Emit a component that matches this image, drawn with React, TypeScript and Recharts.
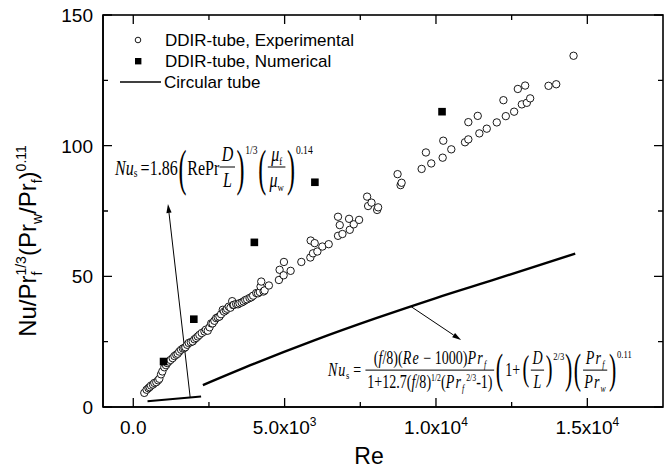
import React from 'react';
import { ComposedChart, Scatter, Line, XAxis, YAxis, ReferenceLine } from 'recharts';

// ---------- data ----------
const expRe = [
  364, 440, 500, 540, 586, 650, 695, 760, 820, 861, 917, 960, 1026, 1080, 1120, 1169, 1230, 1301, 1360, 1420,
  1467, 1520, 1579, 1640, 1690, 1722, 1780, 1831, 1900, 1963, 2020, 2076, 2130, 2185, 2260, 2351, 2400, 2460,
  2520, 2573, 2620, 2680, 2738, 2790, 2847, 2900, 2957, 3000, 3060, 3100, 3155, 3210, 3268, 3300, 3321, 3400,
  3460, 3510, 3580, 3642, 3700, 3760, 3841, 3900, 3960, 4063, 4120, 4180, 4205, 4228, 4304, 4338, 4480, 4811,
  4834, 4967, 4977, 5198, 5552, 5850, 5861, 5937, 5993, 6082, 6247, 6456,
  6764, 6764, 6821, 6910, 7129, 7152, 7284, 7460, 7725, 7758, 7870, 8056, 8089, 8731, 8831, 8864, 9526, 9668,
  9844, 10221, 10241, 10506, 10959, 11069, 11069, 11380, 11433, 11678, 12009, 12228, 12307, 12582, 12704, 12837,
  12946, 13002, 13112, 13718, 13973, 14545,
];
const expNu = [
  5.4, 6.6, 7.2, 7.6, 8.2, 8.6, 9.2, 9.5, 10.2, 10.8, 12.5, 13.6, 15.2, 16.0, 16.8, 17.4, 18.0, 18.7, 19.5, 20.0,
  20.4, 21.2, 21.9, 22.4, 22.6, 22.9, 23.8, 24.5, 24.8, 25.1, 25.9, 26.4, 27.0, 27.6, 28.3, 28.9, 29.6, 29.2,
  30.5, 32.0, 32.0, 33.0, 34.0, 34.3, 34.6, 35.5, 37.2, 36.5, 37.0, 37.6, 38.4, 38.0, 40.5, 39.0, 39.1, 39.4,
  39.3, 39.7, 40.0, 40.4, 40.9, 41.2, 41.7, 42.0, 42.6, 43.6, 43.5, 44.0, 46.1, 48.0, 44.2, 44.6, 46.5, 48.6,
  52.5, 50.4, 55.5, 52.1, 55.5, 57.2, 63.7, 58.8, 62.7, 59.5, 61.4, 62.3,
  72.8, 65.5, 69.6, 66.2, 72.0, 67.8, 69.9, 71.6, 80.5, 76.9, 78.2, 75.4, 76.4, 89.1, 84.9, 85.8, 91.1, 97.4,
  93.2, 95.4, 101.9, 98.6, 101.3, 102.4, 109.0, 111.4, 104.7, 106.5, 108.9, 117.4, 111.3, 113.0, 121.7, 115.8,
  123.0, 116.4, 118.1, 122.9, 123.5, 134.4,
];

const numRe = [1000, 2000, 4000, 6000, 10200];
const numNu = [17.4, 33.6, 63.0, 86.0, 113.0];

const turbRe = [2300, 4000, 6000, 8000, 10000, 12000, 14600];
const turbNu = [8.4, 16.6, 25.6, 33.9, 41.7, 49.0, 58.7];

const lamRe = [470, 2240];
const lamNu = [2.2, 4.0];

// annotation arrows: [startRe, startNu, endRe, endNu]
const arrowLaminar = [1880, 3.7, 1146, 77.7];
const arrowTurbulent = [9180, 38.4, 10830, 25.6];

const xDomain = [-1000, 17500];
const yDomain = [0, 150];

const xTicks = [0, 2500, 5000, 7500, 10000, 12500, 15000];
const xMajorTicks = [0, 5000, 10000, 15000];
const xTickMantissa = ['0.0', '5.0x10', '1.0x10', '1.5x10'];
const xTickExponent = ['', '3', '4', '4'];

const yTicks = [0, 25, 50, 75, 100, 125, 150];
const yMajorTicks = [0, 50, 100, 150];
const yTickLabels = ['0', '50', '100', '150'];

const legendLabels = ['DDIR-tube, Experimental', 'DDIR-tube, Numerical', 'Circular tube'];

// ---------- layout constants ----------
const CHART_W = 670;
const CHART_H = 469;
const MARGIN = { top: 15, right: 7, bottom: 0, left: 0 };
const Y_AXIS_W = 103;
const X_AXIS_H = 62;
const PLOT_X = MARGIN.left + Y_AXIS_W;
const PLOT_Y = MARGIN.top;
const PLOT_W = CHART_W - MARGIN.left - MARGIN.right - Y_AXIS_W;
const PLOT_H = CHART_H - MARGIN.top - MARGIN.bottom - X_AXIS_H;

// ---------- derived tables ----------
const expData = expRe.map((re, i) => ({ re, nu: expNu[i] }));
const numData = numRe.map((re, i) => ({ re, nu: numNu[i] }));
const turbData = turbRe.map((re, i) => ({ re, nu: turbNu[i] }));
const lamData = lamRe.map((re, i) => ({ re, nu: lamNu[i] }));

const sans = '"Liberation Sans", Arial, Helvetica, sans-serif';
const serif = '"Liberation Serif", "Times New Roman", Times, serif';
const AX = '#000';

const ok = (...v: any[]) => v.every((n) => typeof n === 'number' && !isNaN(n));

// ---------- tick labels ----------
const BottomTick = (props: any) => {
  const { x, y, payload } = props;
  const i = xMajorTicks.indexOf(payload.value);
  if (i < 0) return <g />;
  return (
    <text x={x} y={y + 27} textAnchor="middle" fontSize={19} fontFamily={sans} fill="#000">
      {xTickMantissa[i]}
      {xTickExponent[i] && (
        <tspan fontSize={12} dy={-8}>
          {xTickExponent[i]}
        </tspan>
      )}
    </text>
  );
};
const LeftTick = (props: any) => {
  const { x, y, payload } = props;
  const i = yMajorTicks.indexOf(payload.value);
  if (i < 0) return <g />;
  return (
    <text x={x - 10} y={y} dy="0.36em" textAnchor="end" fontSize={19} fontFamily={sans} fill="#000">
      {yTickLabels[i]}
    </text>
  );
};

// ---------- frame with inward ticks on all four sides (overlay aligned to the plot box) ----------
const FrameOverlay = () => {
  const sx = (v: number) => PLOT_X + ((v - xDomain[0]) / (xDomain[1] - xDomain[0])) * PLOT_W;
  const sy = (v: number) => PLOT_Y + PLOT_H - ((v - yDomain[0]) / (yDomain[1] - yDomain[0])) * PLOT_H;
  const top = PLOT_Y;
  const bottom = PLOT_Y + PLOT_H;
  const left = PLOT_X;
  const right = PLOT_X + PLOT_W;
  let d = '';
  xTicks.forEach((t) => {
    const len = xMajorTicks.indexOf(t) >= 0 ? 9 : 5;
    const x = sx(t);
    d += `M${x},${bottom}V${bottom - len}M${x},${top}V${top + len}`;
  });
  yTicks.forEach((t) => {
    const len = yMajorTicks.indexOf(t) >= 0 ? 9 : 5;
    const y = sy(t);
    d += `M${left},${y}H${left + len}M${right},${y}H${right - len}`;
  });
  return (
    <svg
      style={{ position: 'absolute', left: 0, top: 0, pointerEvents: 'none' }}
      width={CHART_W}
      height={CHART_H}
    >
      <rect x={left} y={top} width={PLOT_W} height={PLOT_H} fill="none" stroke={AX} strokeWidth={1.6} />
      <path d={d} fill="none" stroke={AX} strokeWidth={1.3} />
    </svg>
  );
};

// ---------- axis titles ----------
const YTitle = (props: any) => {
  const vb = props.viewBox || { x: 0, y: 15, width: 103, height: 392 };
  const cx = vb.x + 36;
  const cy = vb.y + vb.height / 2 + 30;
  return (
    <text
      x={cx}
      y={cy}
      transform={`rotate(-90 ${cx} ${cy})`}
      textAnchor="middle"
      fontSize={24}
      fontFamily={sans}
      fill="#000"
    >
      Nu/Pr
      <tspan fontSize={14} dy={6}>f</tspan>
      <tspan fontSize={14} dx={-4} dy={-16}>1/3</tspan>
      <tspan dy={10}>(Pr</tspan>
      <tspan fontSize={14} dy={6}>w</tspan>
      <tspan dy={-6}>/Pr</tspan>
      <tspan fontSize={14} dy={6}>f</tspan>
      <tspan dy={-6}>)</tspan>
      <tspan fontSize={14} dy={-10}>0.11</tspan>
    </text>
  );
};
const XTitle = (props: any) => {
  const vb = props.viewBox || { x: 103, y: 407, width: 560, height: 62 };
  return (
    <text x={vb.x + vb.width / 2 - 14} y={vb.y + 57} textAnchor="middle" fontSize={23} fontFamily={sans} fill="#000">
      Re
    </text>
  );
};

// ---------- marks ----------
const CircleShape = (p: any) => (
  <circle cx={p.cx} cy={p.cy} r={3.7} fill="#fff" stroke="#000" strokeWidth={0.9} />
);
const SquareShape = (p: any) => <rect x={p.cx - 3.8} y={p.cy - 3.8} width={7.6} height={7.6} fill="#000" />;

const ArrowShape = (p: any) => {
  const { x1, y1, x2, y2 } = p;
  if (!ok(x1, y1, x2, y2)) return null;
  const dx = x2 - x1;
  const dy = y2 - y1;
  const len = Math.sqrt(dx * dx + dy * dy) || 1;
  const ux = dx / len;
  const uy = dy / len;
  const hl = 9;
  const hw = 2.6;
  const bx = x2 - ux * hl;
  const by = y2 - uy * hl;
  const pts = `${x2},${y2} ${bx - uy * hw},${by + ux * hw} ${bx + uy * hw},${by - ux * hw}`;
  return (
    <g>
      <line x1={x1} y1={y1} x2={bx} y2={by} stroke="#000" strokeWidth={1} />
      <polygon points={pts} fill="#000" />
    </g>
  );
};

// ---------- formula helpers (HTML) ----------
const Frac = ({ num, den, pad = 2 }: any) => (
  <span style={{ display: 'inline-flex', flexDirection: 'column', alignItems: 'center', margin: '0 1px' }}>
    <span style={{ borderBottom: '1px solid #000', padding: `0 ${pad}px 2px`, lineHeight: 1.05, alignSelf: 'stretch', textAlign: 'center' }}>
      {num}
    </span>
    <span style={{ padding: `2px ${pad}px 0`, lineHeight: 1.05 }}>{den}</span>
  </span>
);
const Paren = ({ ch, size = 30, sy = 1.7 }: any) => (
  <span style={{ fontSize: size, lineHeight: 1, display: 'inline-block', transform: `scaleY(${sy})`, margin: '0 1px' }}>
    {ch}
  </span>
);
const Sup = ({ children, size = 11, top = 0 }: any) => (
  <span style={{ fontSize: size, alignSelf: 'flex-start', marginTop: top }}>{children}</span>
);
const Sub = ({ children, size = 11, drop = 5 }: any) => (
  <span style={{ fontSize: size, position: 'relative', top: drop, lineHeight: 0 }}>{children}</span>
);
const Isup = ({ children, size = 10 }: any) => (
  <span style={{ fontSize: size, position: 'relative', top: -7, lineHeight: 0 }}>{children}</span>
);

const Formula1 = () => (
  <div
    style={{
      position: 'absolute',
      left: 115,
      top: 167,
      transform: 'translateY(-50%) scaleX(0.8)',
      transformOrigin: 'left center',
      display: 'flex',
      alignItems: 'center',
      fontFamily: serif,
      fontSize: 20,
      color: '#000',
      whiteSpace: 'nowrap',
      lineHeight: 1,
    }}
  >
    <i>Nu</i>
    <Sub size={12}>s</Sub>
    <span style={{ marginLeft: 4 }}>=1.86</span>
    <Paren ch="(" />
    <span>RePr</span>
    <Frac num={<i>D</i>} den={<i>L</i>} />
    <Paren ch=")" />
    <Sup size={12} top={0}>1/3</Sup>
    <Paren ch="(" />
    <Frac
      num={
        <span>
          <i>μ</i>
          <Sub size={11} drop={4}>f</Sub>
        </span>
      }
      den={
        <span>
          <i>μ</i>
          <Sub size={11} drop={4}>w</Sub>
        </span>
      }
    />
    <Paren ch=")" />
    <Sup size={12} top={0}>0.14</Sup>
  </div>
);

const Formula2 = () => (
  <div
    style={{
      position: 'absolute',
      left: 328,
      top: 370,
      transform: 'translateY(-50%) scaleX(0.78)',
      transformOrigin: 'left center',
      display: 'flex',
      alignItems: 'center',
      fontFamily: serif,
      fontSize: 18,
      color: '#000',
      whiteSpace: 'nowrap',
      lineHeight: 1,
    }}
  >
    <i style={{ letterSpacing: 1 }}>Nu</i>
    <Sub size={11}>s</Sub>
    <span style={{ margin: '0 5px' }}>=</span>
    <Frac
      num={
        <span>
          (<i>f</i>/8)(<i style={{ letterSpacing: 1.5 }}>Re</i> − 1000)<i style={{ letterSpacing: 1.5 }}>Pr</i>
          <Sub size={10} drop={4}><i>f</i></Sub>
        </span>
      }
      den={
        <span>
          1+12.7(<i>f</i>/8)<Isup>1/2</Isup>(<i style={{ letterSpacing: 1.5 }}>Pr</i>
          <Sub size={10} drop={4}><i>f</i></Sub>
          <Isup> 2/3</Isup>-1)
        </span>
      }
    />
    <Paren ch="(" size={28} sy={1.5} />
    <span style={{ margin: '0 2px' }}>1+</span>
    <Paren ch="(" size={26} sy={1.35} />
    <Frac num={<i>D</i>} den={<i>L</i>} />
    <Paren ch=")" size={26} sy={1.35} />
    <Sup size={11} top={2}>2/3</Sup>
    <Paren ch=")" size={28} sy={1.5} />
    <Paren ch="(" size={28} sy={1.5} />
    <Frac
      num={
        <span>
          <i style={{ letterSpacing: 1.5 }}>Pr</i>
          <Sub size={10} drop={4}><i>f</i></Sub>
        </span>
      }
      den={
        <span>
          <i style={{ letterSpacing: 1.5 }}>Pr</i>
          <Sub size={10} drop={4}><i>w</i></Sub>
        </span>
      }
    />
    <Paren ch=")" size={28} sy={1.5} />
    <Sup size={11} top={0}>0.11</Sup>
  </div>
);

const LegendBox = () => {
  const rowStyle = (top: number): React.CSSProperties => ({
    position: 'absolute',
    left: 165,
    top,
    transform: 'translateY(-50%)',
    fontFamily: sans,
    fontSize: 17,
    lineHeight: 1,
    color: '#000',
    whiteSpace: 'nowrap',
  });
  return (
    <>
      <svg style={{ position: 'absolute', left: 110, top: 30 }} width={55} height={60}>
        <circle cx={28} cy={10} r={2.8} fill="#fff" stroke="#000" strokeWidth={0.9} />
        <rect x={25} y={28} width={6.4} height={6.4} fill="#000" />
        <line x1={10} x2={51} y1={52} y2={52} stroke="#000" strokeWidth={1.5} />
      </svg>
      <div style={rowStyle(40)}>{legendLabels[0]}</div>
      <div style={rowStyle(61)}>{legendLabels[1]}</div>
      <div style={{ ...rowStyle(82), left: 164 }}>{legendLabels[2]}</div>
    </>
  );
};

export default function App() {
  return (
    <div style={{ position: 'relative', width: CHART_W, height: CHART_H, background: '#fff', overflow: 'hidden' }}>
      <style>{`body{margin:0;background:#fff}`}</style>
      <ComposedChart width={CHART_W} height={CHART_H} margin={MARGIN}>
        <XAxis
          xAxisId="b"
          type="number"
          dataKey="re"
          domain={xDomain}
          allowDataOverflow
          ticks={xTicks}
          interval={0}
          height={X_AXIS_H}
          tickLine={false}
          tickSize={0}
          tickMargin={0}
          axisLine={{ stroke: AX, strokeWidth: 1.6 }}
          tick={<BottomTick />}
          label={<XTitle />}
        />
        <YAxis
          yAxisId="l"
          type="number"
          dataKey="nu"
          domain={yDomain}
          allowDataOverflow
          ticks={yTicks}
          interval={0}
          width={Y_AXIS_W}
          tickLine={false}
          tickSize={0}
          tickMargin={0}
          axisLine={{ stroke: AX, strokeWidth: 1.6 }}
          tick={<LeftTick />}
          label={<YTitle />}
        />
        <Line
          xAxisId="b"
          yAxisId="l"
          data={turbData}
          dataKey="nu"
          type="monotone"
          stroke="#000"
          strokeWidth={2.4}
          dot={false}
          activeDot={false}
          isAnimationActive={false}
        />
        <Line
          xAxisId="b"
          yAxisId="l"
          data={lamData}
          dataKey="nu"
          type="linear"
          stroke="#000"
          strokeWidth={2}
          dot={false}
          activeDot={false}
          isAnimationActive={false}
        />
        <ReferenceLine
          xAxisId="b"
          yAxisId="l"
          segment={[
            { x: arrowLaminar[0], y: arrowLaminar[1] },
            { x: arrowLaminar[2], y: arrowLaminar[3] },
          ]}
          shape={ArrowShape}
        />
        <ReferenceLine
          xAxisId="b"
          yAxisId="l"
          segment={[
            { x: arrowTurbulent[0], y: arrowTurbulent[1] },
            { x: arrowTurbulent[2], y: arrowTurbulent[3] },
          ]}
          shape={ArrowShape}
        />
        <Scatter xAxisId="b" yAxisId="l" data={expData} dataKey="nu" shape={CircleShape} isAnimationActive={false} />
        <Scatter xAxisId="b" yAxisId="l" data={numData} dataKey="nu" shape={SquareShape} isAnimationActive={false} />
      </ComposedChart>
      <FrameOverlay />
      <LegendBox />
      <Formula1 />
      <Formula2 />
    </div>
  );
}
